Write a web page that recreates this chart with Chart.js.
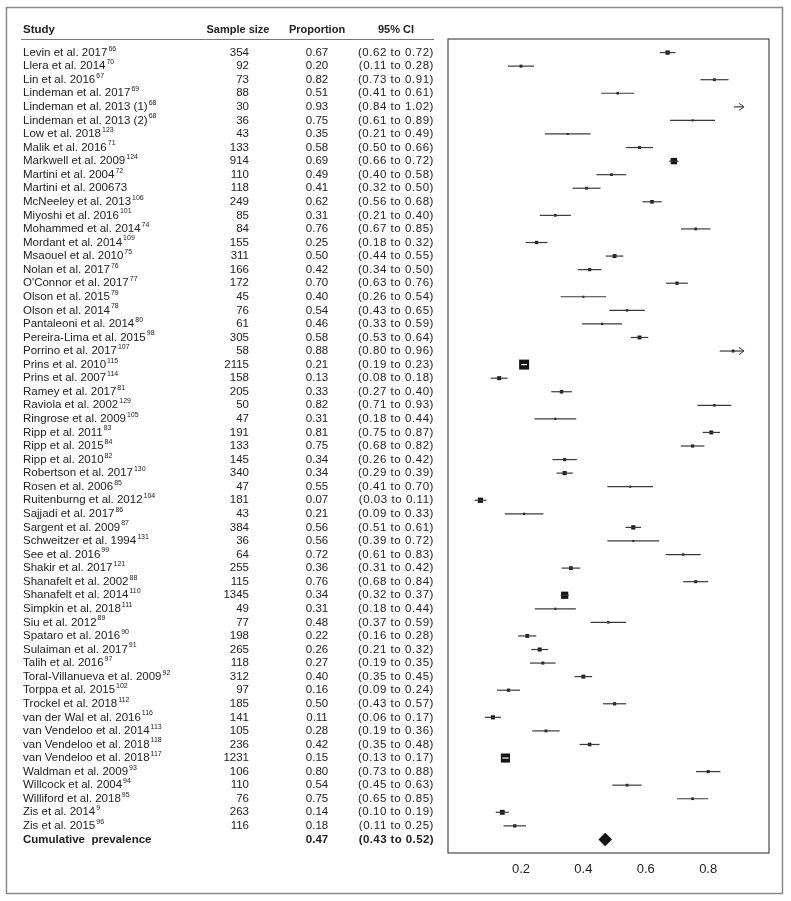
<!DOCTYPE html>
<html>
<head>
<meta charset="utf-8">
<script src="https://cdn.jsdelivr.net/npm/chart.js@4"></script>
<style>
  body { margin: 0; background: #fff; }
  canvas { display: block; }
</style>
</head>
<body>
<canvas id="forest" width="791" height="901"></canvas>
<script>
// Estudios
const studies = [
  "Levin et al. 2017", "Llera et al. 2014", "Lin et al. 2016", "Lindeman et al. 2017",
  "Lindeman et al. 2013 (1)", "Lindeman et al. 2013 (2)", "Low et al. 2018", "Malik et al. 2016",
  "Markwell et al. 2009", "Martini et al. 2004", "Martini et al. 200673", "McNeeley et al. 2013",
  "Miyoshi et al. 2016", "Mohammed et al. 2014", "Mordant et al. 2014", "Msaouel et al. 2010",
  "Nolan et al. 2017", "O'Connor et al. 2017", "Olson et al. 2015", "Olson et al. 2014",
  "Pantaleoni et al. 2014", "Pereira-Lima et al. 2015", "Porrino et al. 2017", "Prins et al. 2010",
  "Prins et al. 2007", "Ramey et al. 2017", "Raviola et al. 2002", "Ringrose et al. 2009",
  "Ripp et al. 2011", "Ripp et al. 2015", "Ripp et al. 2010", "Robertson et al. 2017",
  "Rosen et al. 2006", "Ruitenburng et al. 2012", "Sajjadi et al. 2017", "Sargent et al. 2009",
  "Schweitzer et al. 1994", "See et al. 2016", "Shakir et al. 2017", "Shanafelt et al. 2002",
  "Shanafelt et al. 2014", "Simpkin et al. 2018", "Siu et al. 2012", "Spataro et al. 2016",
  "Sulaiman et al. 2017", "Talih et al. 2016", "Toral-Villanueva et al. 2009", "Torppa et al. 2015",
  "Trockel et al. 2018", "van der Wal et al. 2016", "van Vendeloo et al. 2014", "van Vendeloo et al. 2018",
  "van Vendeloo et al. 2018", "Waldman et al. 2009", "Willcock et al. 2004", "Williford et al. 2018",
  "Zis et al. 2014", "Zis et al. 2015"
];
const refs = [
  "66", "70", "67", "69", "68", "68", "123", "71", "124", "72",
  "", "106", "101", "74", "109", "75", "76", "77", "79", "78",
  "80", "98", "107", "115", "114", "81", "129", "105", "83", "84",
  "82", "130", "85", "104", "86", "87", "131", "99", "121", "88",
  "110", "111", "89", "90", "91", "97", "92", "102", "112", "116",
  "113", "118", "117", "93", "94", "95", "9", "96"
];
const sampleSize = [
  354, 92, 73, 88, 30, 36, 43, 133, 914, 110,
  118, 249, 85, 84, 155, 311, 166, 172, 45, 76,
  61, 305, 58, 2115, 158, 205, 50, 47, 191, 133,
  145, 340, 47, 181, 43, 384, 36, 64, 255, 115,
  1345, 49, 77, 198, 265, 118, 312, 97, 185, 141,
  105, 236, 1231, 106, 110, 76, 263, 116
];
const proportion = [
  0.67, 0.20, 0.82, 0.51, 0.93, 0.75, 0.35, 0.58, 0.69, 0.49,
  0.41, 0.62, 0.31, 0.76, 0.25, 0.50, 0.42, 0.70, 0.40, 0.54,
  0.46, 0.58, 0.88, 0.21, 0.13, 0.33, 0.82, 0.31, 0.81, 0.75,
  0.34, 0.34, 0.55, 0.07, 0.21, 0.56, 0.56, 0.72, 0.36, 0.76,
  0.34, 0.31, 0.48, 0.22, 0.26, 0.27, 0.40, 0.16, 0.50, 0.11,
  0.28, 0.42, 0.15, 0.80, 0.54, 0.75, 0.14, 0.18
];
const ciLow = [
  0.62, 0.11, 0.73, 0.41, 0.84, 0.61, 0.21, 0.50, 0.66, 0.40,
  0.32, 0.56, 0.21, 0.67, 0.18, 0.44, 0.34, 0.63, 0.26, 0.43,
  0.33, 0.53, 0.80, 0.19, 0.08, 0.27, 0.71, 0.18, 0.75, 0.68,
  0.26, 0.29, 0.41, 0.03, 0.09, 0.51, 0.39, 0.61, 0.31, 0.68,
  0.32, 0.18, 0.37, 0.16, 0.21, 0.19, 0.35, 0.09, 0.43, 0.06,
  0.19, 0.35, 0.13, 0.73, 0.45, 0.65, 0.10, 0.11
];
const ciHigh = [
  0.72, 0.28, 0.91, 0.61, 1.02, 0.89, 0.49, 0.66, 0.72, 0.58,
  0.50, 0.68, 0.40, 0.85, 0.32, 0.55, 0.50, 0.76, 0.54, 0.65,
  0.59, 0.64, 0.96, 0.23, 0.18, 0.40, 0.93, 0.44, 0.87, 0.82,
  0.42, 0.39, 0.70, 0.11, 0.33, 0.61, 0.72, 0.83, 0.42, 0.84,
  0.37, 0.44, 0.59, 0.28, 0.32, 0.35, 0.45, 0.24, 0.57, 0.17,
  0.36, 0.48, 0.17, 0.88, 0.63, 0.85, 0.19, 0.25
];

// Extremos de las lineas horizontales tal como se ven en el grafico
const lineLow = [
  0.645, 0.158, 0.775, 0.457, 0.883, 0.678, 0.277, 0.537, 0.675, 0.442,
  0.365, 0.589, 0.260, 0.713, 0.215, 0.472, 0.382, 0.665, 0.327, 0.483,
  0.396, 0.552, 0.837, 0.201, 0.103, 0.297, 0.766, 0.243, 0.782, 0.712,
  0.301, 0.314, 0.477, 0.051, 0.148, 0.535, 0.477, 0.664, 0.330, 0.720,
  0.327, 0.244, 0.423, 0.191, 0.233, 0.229, 0.372, 0.123, 0.463, 0.084,
  0.236, 0.388, 0.140, 0.761, 0.493, 0.700, 0.119, 0.144
];
const lineHigh = [
  0.695, 0.242, 0.865, 0.563, 0.977, 0.822, 0.423, 0.623, 0.705, 0.538,
  0.455, 0.651, 0.360, 0.807, 0.285, 0.528, 0.458, 0.735, 0.473, 0.597,
  0.524, 0.608, 0.923, 0.219, 0.157, 0.363, 0.874, 0.377, 0.838, 0.788,
  0.379, 0.366, 0.623, 0.089, 0.272, 0.585, 0.643, 0.776, 0.390, 0.800,
  0.353, 0.376, 0.537, 0.249, 0.287, 0.311, 0.428, 0.197, 0.537, 0.136,
  0.324, 0.452, 0.160, 0.839, 0.587, 0.800, 0.161, 0.216
];

// Resumen
const pooledLabel = "Cumulative  prevalence";
const pooledEst = 0.47;
const pooledLow = 0.43;
const pooledHigh = 0.52;

// Eje X
const xTicks = [0.2, 0.4, 0.6, 0.8];
const xMin = -0.034;
const xMax = 0.995;
const xClip = 0.915; // las lineas que pasan de aqui terminan en flecha

const FONT = "'Liberation Sans', Arial, Helvetica, sans-serif";
const TEXT = "#222";

// Tamaño de los cuadrados segun el peso (1/se)
const halfWidth = lineLow.map((lo, i) => (lineHigh[i] - lo) / 2);
const minHalf = Math.min(...halfWidth);
const boxSide = halfWidth.map((h) => 1 + 9 * (minHalf / h));

// Lineas: pares de puntos separados por null
const linePoints = [];
studies.forEach((s, i) => {
  linePoints.push({ x: lineLow[i], y: i + 1 });
  linePoints.push({ x: Math.min(lineHigh[i], xClip), y: i + 1 });
  linePoints.push({ x: null, y: null });
});

const boxPoints = proportion.map((p, i) => ({ x: p, y: i + 1 }));
const pooledRow = studies.length + 1;

function ciText(lo, hi) {
  return "(" + lo.toFixed(2) + " to " + hi.toFixed(2) + ")";
}

// Tabla de texto, marcos y flechas
const forestTable = {
  id: "forestTable",
  beforeDraw(chart) {
    const ctx = chart.ctx;
    ctx.save();
    ctx.fillStyle = "#fff";
    ctx.fillRect(0, 0, chart.width, chart.height);
    ctx.strokeStyle = "#8a8a8a";
    ctx.lineWidth = 1.5;
    ctx.strokeRect(6.5, 7.5, 776, 886);
    ctx.restore();
  },
  afterDatasetsDraw(chart) {
    const ctx = chart.ctx;
    const xs = chart.scales.x;
    const ys = chart.scales.y;
    const area = chart.chartArea;
    ctx.save();

    // caja del grafico
    ctx.strokeStyle = "#4a4a4a";
    ctx.lineWidth = 1.2;
    ctx.strokeRect(area.left, area.top, area.right - area.left, area.bottom - area.top);

    // flechas
    ctx.strokeStyle = "#3a3a3a";
    ctx.lineWidth = 1;
    lineHigh.forEach((hi, i) => {
      if (hi <= xClip) return;
      const tip = xs.getPixelForValue(xClip);
      const y = ys.getPixelForValue(i + 1);
      ctx.beginPath();
      ctx.moveTo(tip - 5, y - 3.5);
      ctx.lineTo(tip, y);
      ctx.lineTo(tip - 5, y + 3.5);
      ctx.stroke();
    });

    // encabezados
    ctx.fillStyle = TEXT;
    ctx.textBaseline = "middle";
    ctx.font = "bold 11.5px " + FONT;
    ctx.textAlign = "left";
    ctx.fillText("Study", 23, 30);
    ctx.font = "bold 11px " + FONT;
    ctx.textAlign = "center";
    ctx.fillText("Sample size", 238, 30);
    ctx.fillText("Proportion", 317, 30);
    ctx.fillText("95% CI", 396, 30);

    ctx.strokeStyle = "#777";
    ctx.lineWidth = 1;
    ctx.beginPath();
    ctx.moveTo(21, 39.5);
    ctx.lineTo(434, 39.5);
    ctx.stroke();

    // filas
    studies.forEach((name, i) => {
      const y = ys.getPixelForValue(i + 1);
      ctx.font = "11.5px " + FONT;
      ctx.textAlign = "left";
      ctx.fillText(name, 23, y);
      if (refs[i]) {
        const w = ctx.measureText(name).width;
        ctx.font = "7px " + FONT;
        ctx.fillText(refs[i], 23 + w + 1, y - 4);
        ctx.font = "11.5px " + FONT;
      }
      ctx.textAlign = "right";
      ctx.fillText(String(sampleSize[i]), 249, y);
      ctx.textAlign = "center";
      ctx.fillText(proportion[i].toFixed(2), 317, y);
      ctx.textAlign = "right";
      ctx.letterSpacing = "0.55px";
      ctx.fillText(ciText(ciLow[i], ciHigh[i]), 434, y);
      ctx.letterSpacing = "0px";
    });

    // fila del resumen
    const yp = ys.getPixelForValue(pooledRow);
    ctx.font = "bold 11.5px " + FONT;
    ctx.textAlign = "left";
    ctx.fillText(pooledLabel, 23, yp);
    ctx.textAlign = "center";
    ctx.fillText(pooledEst.toFixed(2), 317, yp);
    ctx.textAlign = "right";
    ctx.letterSpacing = "0.4px";
    ctx.fillText(ciText(pooledLow, pooledHigh), 434, yp);
    ctx.letterSpacing = "0px";

    ctx.restore();
  }
};

new Chart(document.getElementById("forest").getContext("2d"), {
  type: "scatter",
  data: {
    datasets: [
      {
        label: "CI",
        data: linePoints,
        showLine: true,
        spanGaps: false,
        borderWidth: 1.2,
        borderColor: "#3a3a3a",
        pointRadius: 0,
        segment: {
          borderColor: (c) => {
            const k = Math.floor(c.p0DataIndex / 3);
            return c.p1.x - c.p0.x < boxSide[k] ? "#fff" : "#3a3a3a";
          }
        }
      },
      {
        label: "Proportion",
        data: boxPoints,
        pointStyle: "rect",
        pointRadius: proportion.map((p, i) => (p > xClip ? 0 : boxSide[i] / Math.SQRT2)),
        backgroundColor: "#151515",
        borderWidth: 0
      },
      {
        label: "Pooled",
        data: [{ x: pooledEst, y: pooledRow }],
        pointStyle: "rectRot",
        pointRadius: 6.8,
        backgroundColor: "#151515",
        borderWidth: 0
      }
    ]
  },
  options: {
    responsive: false,
    animation: false,
    events: [],
    layout: { padding: { left: 448, right: 22, top: 39, bottom: 18 } },
    plugins: {
      legend: { display: false },
      tooltip: { enabled: false }
    },
    scales: {
      x: {
        type: "linear",
        min: xMin,
        max: xMax,
        afterBuildTicks: (scale) => {
          scale.ticks = xTicks.map((v) => ({ value: v }));
        },
        afterFit: (scale) => {
          scale.height = 30;
        },
        grid: { display: false, drawTicks: false },
        border: { display: false },
        ticks: {
          padding: 9,
          color: "#222",
          font: { family: FONT, size: 13 },
          callback: (v) => v.toFixed(1)
        }
      },
      y: {
        type: "linear",
        display: false,
        reverse: true,
        min: 0,
        max: 60
      }
    }
  },
  plugins: [forestTable]
});
</script>
</body>
</html>
